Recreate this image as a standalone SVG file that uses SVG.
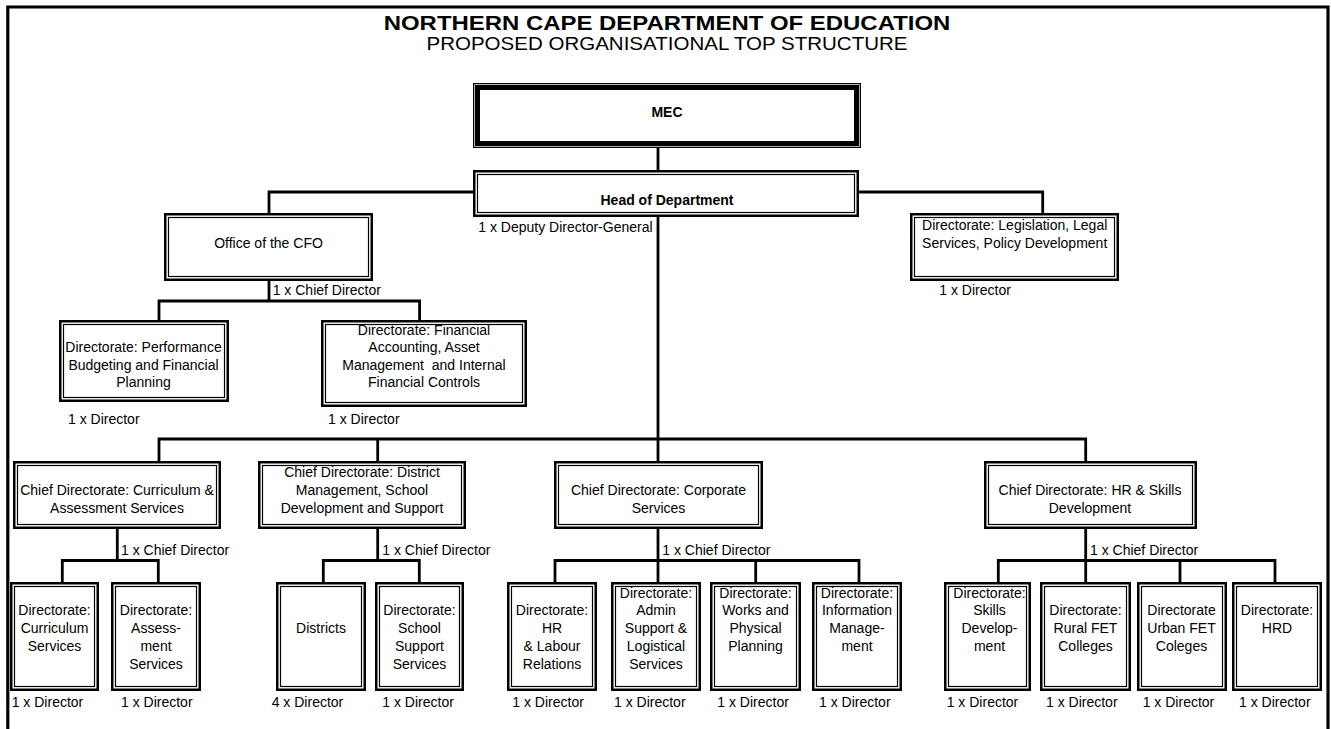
<svg xmlns="http://www.w3.org/2000/svg" width="1331" height="729" viewBox="0 0 1331 729">
  <style>
    .bo { fill: #fff; stroke: #000; stroke-width: 2.5; }
    .bi { fill: none; stroke: #000; stroke-width: 1.2; }
    .ln { fill: none; stroke: #000; stroke-width: 2.8; }
    text { font-family: "Liberation Sans", Arial, sans-serif; font-size: 14px; fill: #000; }
    .c { text-anchor: middle; }
    .b { font-weight: bold; }
  </style>

  <rect x="0" y="0" width="1331" height="729" fill="#fff"/>

  <!-- page frame, open at the bottom -->
  <path d="M7.8,729 V7 H1328 V729" fill="none" stroke="#000" stroke-width="3.2"/>

  <!-- heading (set slightly wide) -->
  <g id="heading">
    <text class="c b" transform="translate(667,30) scale(1.14,1)" style="font-size:21px">NORTHERN CAPE DEPARTMENT OF EDUCATION</text>
    <text class="c" transform="translate(667,49.5) scale(1.14,1)" style="font-size:18px">PROPOSED ORGANISATIONAL TOP STRUCTURE</text>
  </g>

  <!-- reporting lines -->
  <g id="connectors" class="ln">
    <path d="M658,148 V170"/>
    <path d="M473,192 H269 V213"/>
    <path d="M859,192 H1042.7 V213"/>
    <path d="M658,217 V461"/>
    <path d="M269,281 V301"/>
    <path d="M159,320 V301 H419.6 V320"/>
    <path d="M159,461 V439 H1085.7 V461"/>
    <path d="M377.7,439 V461"/>
    <path d="M117.3,529 V560.5"/>
    <path d="M62.3,582 V560.5 H158.3 V582"/>
    <path d="M377.7,529 V560.5"/>
    <path d="M323.3,582 V560.5 H419.3 V582"/>
    <path d="M658,529 V582"/>
    <path d="M555,582 V560.5 H859 V582"/>
    <path d="M755.7,560.5 V582"/>
    <path d="M1085.7,529 V582"/>
    <path d="M998.3,582 V560.5 H1275 V582"/>
    <path d="M1180,560.5 V582"/>
  </g>

  <!-- MEC -->
  <g id="mec">
    <rect x="473.65" y="83.65" width="386.7" height="63.7" fill="#fff" stroke="#000" stroke-width="1.3"/>
    <rect x="477.5" y="87.5" width="379" height="56" fill="none" stroke="#000" stroke-width="5"/>
    <text class="c b" x="667" y="117">MEC</text>
  </g>

  <!-- Head of Department -->
  <g id="hod">
    <rect class="bo" x="474.25" y="171.25" width="383.5" height="44.5"/>
    <rect class="bi" x="477.5" y="174.5" width="377" height="38"/>
    <text class="c b" x="667" y="204.5">Head of Department</text>
    <text x="478.3" y="231.5">1 x Deputy Director-General</text>
  </g>

  <!-- Office of the CFO -->
  <g id="cfo">
    <rect class="bo" x="165.25" y="214.25" width="206.5" height="65.5"/>
    <rect class="bi" x="168.5" y="217.5" width="200" height="59"/>
    <text class="c" x="268.5" y="248">Office of the CFO</text>
    <text x="272.7" y="295">1 x Chief Director</text>
  </g>

  <!-- Legislation -->
  <g id="legislation">
    <rect class="bo" x="911.25" y="214.25" width="206.5" height="65.5"/>
    <rect class="bi" x="914.5" y="217.5" width="200" height="59"/>
    <text class="c" x="1014.7" y="230">Directorate: Legislation, Legal</text>
    <text class="c" x="1014.7" y="247.5">Services, Policy Development</text>
    <text x="939.3" y="295">1 x Director</text>
  </g>

  <!-- Performance Budgeting -->
  <g id="performance-budgeting">
    <rect class="bo" x="60.25" y="321.25" width="167.5" height="79.5"/>
    <rect class="bi" x="63.5" y="324.5" width="161" height="73"/>
    <text class="c" x="143.5" y="352">Directorate: Performance</text>
    <text class="c" x="143.5" y="369.5">Budgeting and Financial</text>
    <text class="c" x="143.5" y="387">Planning</text>
    <text x="68" y="424">1 x Director</text>
  </g>

  <!-- Financial Accounting -->
  <g id="financial-accounting">
    <rect class="bo" x="322.25" y="321.25" width="203.5" height="84.5"/>
    <rect class="bi" x="325.5" y="324.5" width="197" height="78"/>
    <text class="c" x="424" y="334.5">Directorate: Financial</text>
    <text class="c" x="424" y="352">Accounting, Asset</text>
    <text class="c" x="424" y="369.5">Management&#160; and Internal</text>
    <text class="c" x="424" y="387">Financial Controls</text>
    <text x="328" y="424">1 x Director</text>
  </g>

  <!-- Chief Directorate: Curriculum & Assessment -->
  <g id="cd-curriculum">
    <rect class="bo" x="14.25" y="462.25" width="205.5" height="65.5"/>
    <rect class="bi" x="17.5" y="465.5" width="199" height="59"/>
    <text class="c" x="117" y="495">Chief Directorate: Curriculum &amp;</text>
    <text class="c" x="117" y="513">Assessment Services</text>
    <text x="121" y="555">1 x Chief Director</text>
  </g>

  <!-- Chief Directorate: District Management -->
  <g id="cd-district">
    <rect class="bo" x="259.25" y="462.25" width="205.5" height="65.5"/>
    <rect class="bi" x="262.5" y="465.5" width="199" height="59"/>
    <text class="c" x="362" y="477">Chief Directorate: District</text>
    <text class="c" x="362" y="495">Management, School</text>
    <text class="c" x="362" y="513">Development and Support</text>
    <text x="382.3" y="555">1 x Chief Director</text>
  </g>

  <!-- Chief Directorate: Corporate Services -->
  <g id="cd-corporate">
    <rect class="bo" x="555.25" y="462.25" width="206.5" height="65.5"/>
    <rect class="bi" x="558.5" y="465.5" width="200" height="59"/>
    <text class="c" x="658.5" y="495">Chief Directorate: Corporate</text>
    <text class="c" x="658.5" y="513">Services</text>
    <text x="662.3" y="555">1 x Chief Director</text>
  </g>

  <!-- Chief Directorate: HR & Skills Development -->
  <g id="cd-hr-skills">
    <rect class="bo" x="985.25" y="462.25" width="210.5" height="65.5"/>
    <rect class="bi" x="988.5" y="465.5" width="204" height="59"/>
    <text class="c" x="1090" y="495">Chief Directorate: HR &amp; Skills</text>
    <text class="c" x="1090" y="513">Development</text>
    <text x="1090" y="555">1 x Chief Director</text>
  </g>

  <!-- directorates, bottom row -->
  <g id="curriculum-services">
    <rect class="bo" x="11.25" y="583.25" width="86.5" height="106.5"/>
    <rect class="bi" x="14.5" y="586.5" width="80" height="100"/>
    <text class="c" x="54.5" y="615.4">Directorate:</text>
    <text class="c" x="54.5" y="633.1">Curriculum</text>
    <text class="c" x="54.5" y="650.8">Services</text>
    <text x="11.7" y="706.7">1 x Director</text>
  </g>

  <g id="assessment-services">
    <rect class="bo" x="112.25" y="583.25" width="87.5" height="106.5"/>
    <rect class="bi" x="115.5" y="586.5" width="81" height="100"/>
    <text class="c" x="156" y="615.4">Directorate:</text>
    <text class="c" x="156" y="633.1">Assess-</text>
    <text class="c" x="156" y="650.8">ment</text>
    <text class="c" x="156" y="668.5">Services</text>
    <text x="121" y="706.7">1 x Director</text>
  </g>

  <g id="districts">
    <rect class="bo" x="277.25" y="583.25" width="87.5" height="106.5"/>
    <rect class="bi" x="280.5" y="586.5" width="81" height="100"/>
    <text class="c" x="321" y="633.1">Districts</text>
    <text x="271.7" y="706.7">4 x Director</text>
  </g>

  <g id="school-support">
    <rect class="bo" x="376.25" y="583.25" width="86.5" height="106.5"/>
    <rect class="bi" x="379.5" y="586.5" width="80" height="100"/>
    <text class="c" x="419.5" y="615.4">Directorate:</text>
    <text class="c" x="419.5" y="633.1">School</text>
    <text class="c" x="419.5" y="650.8">Support</text>
    <text class="c" x="419.5" y="668.5">Services</text>
    <text x="382.3" y="706.7">1 x Director</text>
  </g>

  <g id="hr-labour">
    <rect class="bo" x="508.25" y="583.25" width="87.5" height="106.5"/>
    <rect class="bi" x="511.5" y="586.5" width="81" height="100"/>
    <text class="c" x="552" y="615.4">Directorate:</text>
    <text class="c" x="552" y="633.1">HR</text>
    <text class="c" x="552" y="650.8">&amp; Labour</text>
    <text class="c" x="552" y="668.5">Relations</text>
    <text x="512.3" y="706.7">1 x Director</text>
  </g>

  <g id="admin-support">
    <rect class="bo" x="612.25" y="583.25" width="87.5" height="106.5"/>
    <rect class="bi" x="615.5" y="586.5" width="81" height="100"/>
    <text class="c" x="656" y="597.7">Directorate:</text>
    <text class="c" x="656" y="615.4">Admin</text>
    <text class="c" x="656" y="633.1">Support &amp;</text>
    <text class="c" x="656" y="650.8">Logistical</text>
    <text class="c" x="656" y="668.5">Services</text>
    <text x="614" y="706.7">1 x Director</text>
  </g>

  <g id="works-planning">
    <rect class="bo" x="711.25" y="583.25" width="88.5" height="106.5"/>
    <rect class="bi" x="714.5" y="586.5" width="82" height="100"/>
    <text class="c" x="755.5" y="597.7">Directorate:</text>
    <text class="c" x="755.5" y="615.4">Works and</text>
    <text class="c" x="755.5" y="633.1">Physical</text>
    <text class="c" x="755.5" y="650.8">Planning</text>
    <text x="717.3" y="706.7">1 x Director</text>
  </g>

  <g id="information-management">
    <rect class="bo" x="813.25" y="583.25" width="87.5" height="106.5"/>
    <rect class="bi" x="816.5" y="586.5" width="81" height="100"/>
    <text class="c" x="857" y="597.7">Directorate:</text>
    <text class="c" x="857" y="615.4">Information</text>
    <text class="c" x="857" y="633.1">Manage-</text>
    <text class="c" x="857" y="650.8">ment</text>
    <text x="819" y="706.7">1 x Director</text>
  </g>

  <g id="skills-development">
    <rect class="bo" x="945.25" y="583.25" width="84.5" height="106.5"/>
    <rect class="bi" x="948.5" y="586.5" width="78" height="100"/>
    <text class="c" x="989.5" y="597.7">Directorate:</text>
    <text class="c" x="989.5" y="615.4">Skills</text>
    <text class="c" x="989.5" y="633.1">Develop-</text>
    <text class="c" x="989.5" y="650.8">ment</text>
    <text x="946.7" y="706.7">1 x Director</text>
  </g>

  <g id="rural-fet">
    <rect class="bo" x="1041.25" y="583.25" width="88.5" height="106.5"/>
    <rect class="bi" x="1044.5" y="586.5" width="82" height="100"/>
    <text class="c" x="1085.5" y="615.4">Directorate:</text>
    <text class="c" x="1085.5" y="633.1">Rural FET</text>
    <text class="c" x="1085.5" y="650.8">Colleges</text>
    <text x="1046" y="706.7">1 x Director</text>
  </g>

  <g id="urban-fet">
    <rect class="bo" x="1138.25" y="583.25" width="87.5" height="106.5"/>
    <rect class="bi" x="1141.5" y="586.5" width="81" height="100"/>
    <text class="c" x="1181.5" y="615.4">Directorate</text>
    <text class="c" x="1181.5" y="633.1">Urban FET</text>
    <text class="c" x="1181.5" y="650.8">Coleges</text>
    <text x="1142.7" y="706.7">1 x Director</text>
  </g>

  <g id="hrd">
    <rect class="bo" x="1233.25" y="583.25" width="87.5" height="106.5"/>
    <rect class="bi" x="1236.5" y="586.5" width="81" height="100"/>
    <text class="c" x="1277" y="615.4">Directorate:</text>
    <text class="c" x="1277" y="633.1">HRD</text>
    <text x="1239" y="706.7">1 x Director</text>
  </g>
</svg>
